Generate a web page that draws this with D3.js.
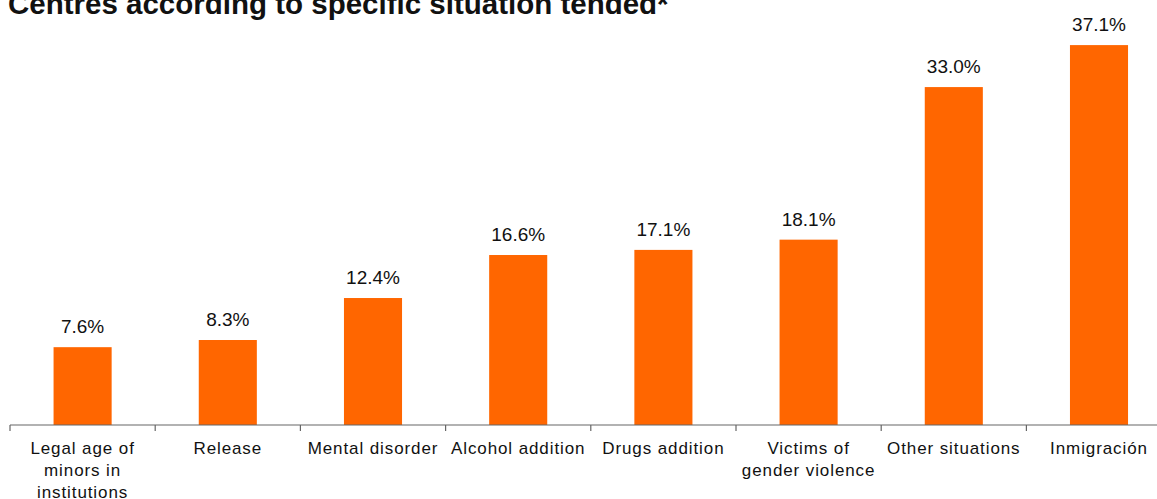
<!DOCTYPE html>
<html>
<head>
<meta charset="utf-8">
<script src="https://cdn.jsdelivr.net/npm/d3@7"></script>
<style>
  body { margin: 0; background: #fff; }
  svg { display: block; font-family: "Liberation Sans", Arial, sans-serif; }
</style>
</head>
<body>
<div id="chart"></div>
<script>
'use strict';

// Chart data
var title = 'Centres according to specific situation tended*';
var categories = [
  'Legal age of|minors in|institutions',
  'Release',
  'Mental disorder',
  'Alcohol addition',
  'Drugs addition',
  'Victims of|gender violence',
  'Other situations',
  'Inmigración'
];
var values = [7.6, 8.3, 12.4, 16.6, 17.1, 18.1, 33.0, 37.1];
var valueLabels = ['7.6%', '8.3%', '12.4%', '16.6%', '17.1%', '18.1%', '33.0%', '37.1%'];

// Layout parameters
var width = 1157;
var height = 499;
var baseY = 425;
var left = 10;
var step = 145.2;

var x = d3.scaleBand()
  .domain(categories)
  .range([left, left + step * categories.length])
  .paddingInner(0.6)
  .paddingOuter(0.3);

var y = d3.scaleLinear()
  .domain([0, 40])
  .range([baseY, baseY - 409.6]);

var svg = d3.select('#chart').append('svg')
  .attr('width', width)
  .attr('height', height);

svg.append('text')
  .attr('x', 8)
  .attr('y', 14)
  .attr('font-size', 29.5)
  .attr('font-weight', 'bold')
  .attr('fill', '#111')
  .text(title);

// Bars
svg.selectAll('.bar')
  .data(values)
  .enter().append('rect')
  .attr('class', 'bar')
  .attr('x', function(d, i) { return x(categories[i]); })
  .attr('width', x.bandwidth())
  .attr('y', function(d) { return y(d); })
  .attr('height', function(d) { return y(0) - y(d); })
  .attr('fill', '#ff6600');

// Value labels
svg.selectAll('.value')
  .data(values)
  .enter().append('text')
  .attr('class', 'value')
  .attr('x', function(d, i) { return x(categories[i]) + x.bandwidth() / 2; })
  .attr('y', function(d) { return y(d) - 14; })
  .attr('text-anchor', 'middle')
  .attr('font-size', 19)
  .attr('fill', '#111')
  .text(function(d, i) { return valueLabels[i]; });

// Axis line and boundary ticks
svg.append('line')
  .attr('x1', left)
  .attr('x2', width)
  .attr('y1', baseY)
  .attr('y2', baseY)
  .attr('stroke', '#666')
  .attr('stroke-width', 1.2);

svg.selectAll('.tick')
  .data(d3.range(categories.length + 1))
  .enter().append('line')
  .attr('class', 'tick')
  .attr('x1', function(i) { return x.range()[0] + i * x.step(); })
  .attr('x2', function(i) { return x.range()[0] + i * x.step(); })
  .attr('y1', baseY)
  .attr('y2', baseY + 6)
  .attr('stroke', '#666')
  .attr('stroke-width', 1.2);

// Category labels
var labels = svg.selectAll('.cat')
  .data(categories)
  .enter().append('text')
  .attr('class', 'cat')
  .attr('text-anchor', 'middle')
  .attr('font-size', 17)
  .attr('letter-spacing', 0.9)
  .attr('fill', '#111');

labels.each(function(d) {
  var cx = x(d) + x.bandwidth() / 2;
  var t = d3.select(this);
  d.split('|').forEach(function(line, j) {
    t.append('tspan')
      .attr('x', cx)
      .attr('y', 454 + j * 22)
      .text(line);
  });
});
</script>
</body>
</html>
